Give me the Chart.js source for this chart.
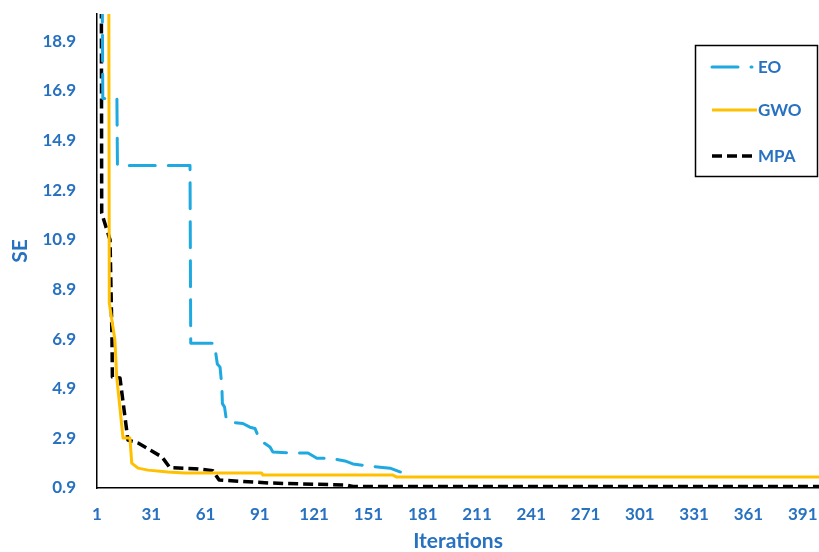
<!DOCTYPE html>
<html>
<head>
<meta charset="utf-8">
<script src="https://cdn.jsdelivr.net/npm/chart.js@4/dist/chart.umd.min.js"></script>
<style>
html,body{margin:0;padding:0;background:#fff;overflow:hidden}
#wrap{width:819px;height:552px;position:relative}
</style>
</head>
<body>
<div id="wrap"><canvas id="c" width="819" height="552"></canvas></div>
<script>
// ---- tick labels ----
const xTicks = [1, 31, 61, 91, 121, 151, 181, 211, 241, 271, 301, 331, 361, 391];
const yTicks = [0.9, 2.9, 4.9, 6.9, 8.9, 10.9, 12.9, 14.9, 16.9, 18.9];

// ---- series (iteration, SE) ----
const seriesNames = ['EO', 'GWO', 'MPA'];

const eoIter = [1, 3.8, 4.2, 12, 12.3, 52.4, 52.8, 66, 66.5, 67.5, 69, 70, 70.3, 71.5, 72.5, 74, 81.6, 85.5, 88.3, 91, 96.6, 98.2, 109, 117.6, 122.5, 129.7, 138, 142.4, 150.7, 163, 168.4, 172.8];
const eoSE   = [60, 22, 16.6, 16.6, 13.9, 13.9, 6.73, 6.73, 6.4, 5.9, 5.77, 5.0, 4.3, 4.16, 3.64, 3.56, 3.5, 3.35, 3.3, 2.83, 2.55, 2.35, 2.31, 2.31, 2.1, 2.1, 1.99, 1.87, 1.79, 1.7, 1.55, 1.5];

const gwoIter = [1, 7.5, 7.8, 10.9, 11.9, 15.4, 19.2, 20.2, 23.7, 29.2, 40.2, 49.6, 92, 92.7, 164.5, 166.7, 400];
const gwoSE   = [60, 22, 8.35, 6.86, 5.37, 2.91, 2.91, 1.9, 1.7, 1.62, 1.54, 1.5, 1.5, 1.42, 1.42, 1.34, 1.34];

const mpaIter = [1, 3.4, 3.6, 8.2, 9.3, 9.5, 13.7, 18.1, 23.7, 30.3, 36.9, 41.3, 55, 65, 68.5, 96.6, 139, 142.4, 400];
const mpaSE   = [45, 21, 11.97, 10.9, 6.86, 5.37, 5.33, 2.83, 2.71, 2.43, 2.15, 1.72, 1.68, 1.6, 1.22, 1.1, 1.02, 0.96, 0.96];

const seriesColors = ['#1FA9E1', '#FFC000', '#000000'];
const textBlue = '#2771C0';
const FONT = 'Lato, "Open Sans", sans-serif';

function pts(xs, ys) { return xs.map((x, i) => ({ x: x, y: ys[i] })); }

const legendBox = {
  id: 'legendBox',
  afterDraw(chart) {
    const ctx = chart.ctx;
    ctx.save();
    ctx.setLineDash([]);
    ctx.lineWidth = 1.5;
    ctx.strokeStyle = '#000';
    ctx.strokeRect(695.5, 45.5, 122, 131);
    const ys = [67, 110, 156];
    const ends = [752, 757, 752];
    chart.data.datasets.forEach((ds, i) => {
      ctx.save();
      ctx.beginPath();
      ctx.setLineDash(ds.borderDash || []);
      ctx.lineCap = ds.borderCapStyle || 'butt';
      ctx.lineWidth = ds.borderWidth;
      ctx.strokeStyle = ds.borderColor;
      ctx.moveTo(712, ys[i]);
      ctx.lineTo(ends[i], ys[i]);
      ctx.stroke();
      ctx.restore();
      ctx.fillStyle = textBlue;
      ctx.font = 'bold 17px ' + FONT;
      ctx.textBaseline = 'middle';
      ctx.textAlign = 'left';
      ctx.fillText(ds.label, 758, ys[i] + 1);
    });
    ctx.restore();
  }
};

new Chart(document.getElementById('c'), {
  type: 'line',
  data: {
    datasets: [
      { label: seriesNames[0], data: pts(eoIter, eoSE), borderColor: seriesColors[0], borderWidth: 3, borderDash: [26, 13], borderCapStyle: 'round', borderJoinStyle: 'round', pointRadius: 0, fill: false, tension: 0 },
      { label: seriesNames[1], data: pts(gwoIter, gwoSE), borderColor: seriesColors[1], borderWidth: 3, borderJoinStyle: 'round', pointRadius: 0, fill: false, tension: 0 },
      { label: seriesNames[2], data: pts(mpaIter, mpaSE), borderColor: seriesColors[2], borderWidth: 3.5, borderDash: [10, 5], borderCapStyle: 'butt', borderJoinStyle: 'round', pointRadius: 0, fill: false, tension: 0 }
    ]
  },
  options: {
    responsive: false,
    animation: false,
    devicePixelRatio: 1,
    layout: { padding: { top: 14, left: 0, right: 0, bottom: 0 } },
    plugins: { legend: { display: false }, tooltip: { enabled: false } },
    scales: {
      x: {
        type: 'linear',
        min: 1,
        max: 400,
        grid: { display: false, drawTicks: false },
        border: { display: true, color: '#000', width: 1.5 },
        ticks: { color: textBlue, font: { family: FONT, size: 17, weight: 'bold' }, padding: 16, autoSkip: false, maxRotation: 0, callback: v => String(v) },
        afterBuildTicks: s => { s.ticks = xTicks.map(v => ({ value: v })); },
        afterFit: s => { s.height = 64; s.paddingLeft = 0; s.paddingRight = 0; },
        title: { display: true, text: 'Iterations', color: textBlue, font: { family: FONT, size: 21, weight: 'bold', lineHeight: 1.0 }, padding: { top: 0, bottom: 0 } }
      },
      y: {
        type: 'linear',
        min: 0.9,
        max: 20,
        grid: { display: false, drawTicks: false },
        border: { display: true, color: '#000', width: 1.5 },
        ticks: { color: textBlue, font: { family: FONT, size: 17, weight: 'bold' }, padding: 21, callback: v => String(v) },
        afterBuildTicks: s => { s.ticks = yTicks.map(v => ({ value: v })); },
        afterFit: s => { s.width = 97; s.paddingTop = 0; s.paddingBottom = 0; },
        title: { display: true, text: 'SE', color: textBlue, font: { family: FONT, size: 21, weight: 'bold' }, padding: { top: 8, bottom: 0 } }
      }
    }
  },
  plugins: [legendBox]
});
</script>
</body>
</html>
